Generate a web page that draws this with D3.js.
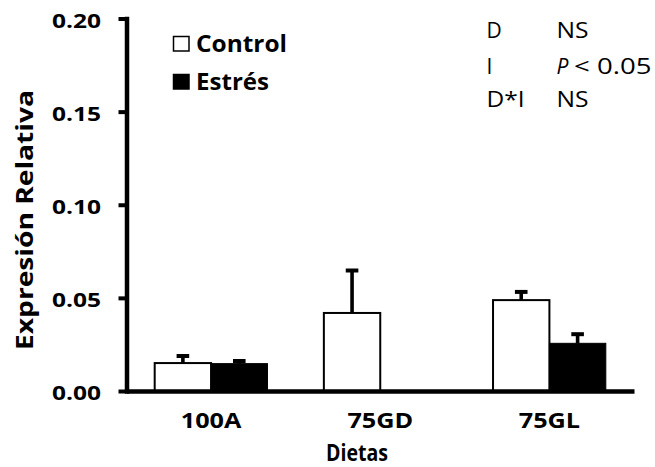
<!DOCTYPE html>
<html><head><meta charset="utf-8">
<script src="https://cdn.jsdelivr.net/npm/d3@7"></script>
<style>body{margin:0;background:#fff} svg text{font-family:"Open Sans",sans-serif;fill:#000}</style>
</head><body><svg id="c" width="655" height="467"></svg>
<script>
const categories = ["100A", "75GD", "75GL"];
const seriesNames = ["Control", "Estrés"];
const controlValues = [0.0150, 0.0419, 0.0488];
const controlErrors = [0.0038, 0.0228, 0.0044];
const stressValues = [0.0147, 0, 0.0256];
const stressErrors = [0.0014, 0, 0.0049];
const yTicks = [0, 0.05, 0.10, 0.15, 0.20];
const statTerms = ["D", "I", "D*I"];
const statResults = ["NS", "P < 0.05", "NS"];

const svg = d3.select("#c");
const W = 655, H = 467;
svg.append("rect").attr("width", W).attr("height", H).attr("fill", "#fff");

function fit(sel, len) {
  sel.attr("textLength", len).attr("lengthAdjust", "spacingAndGlyphs");
}
function stretch(sel, f) {
  sel.each(function () {
    const L = this.getComputedTextLength();
    this.setAttribute("textLength", L * f);
    this.setAttribute("lengthAdjust", "spacingAndGlyphs");
  });
}

const x = d3.scaleBand().domain(categories).range([126.5, 634]).paddingInner(1 / 3).paddingOuter(1 / 6);
const xs = d3.scaleBand().domain(seriesNames).range([0, x.bandwidth()]);
const y = d3.scaleLinear().domain([0, 0.2]).range([391, 18.5]);

const rows = [];
categories.forEach((c, i) => {
  rows.push({ cat: c, s: "Control", v: controlValues[i], e: controlErrors[i] });
  rows.push({ cat: c, s: "Estrés", v: stressValues[i], e: stressErrors[i] });
});

// bars
svg.append("g").selectAll("rect").data(rows.filter(d => d.v > 0)).join("rect")
  .attr("x", d => x(d.cat) + xs(d.s))
  .attr("y", d => y(d.v))
  .attr("width", xs.bandwidth())
  .attr("height", d => y(0) - y(d.v))
  .attr("fill", d => d.s === "Control" ? "#fff" : "#000")
  .attr("stroke", "#000")
  .attr("stroke-width", d => d.s === "Control" ? 2 : 1);

// error bars
const eb = svg.append("g").selectAll("g").data(rows.filter(d => d.e > 0)).join("g")
  .attr("transform", d => `translate(${x(d.cat) + xs(d.s) + xs.bandwidth() / 2},0)`);
eb.append("line").attr("x1", 0).attr("x2", 0)
  .attr("y1", d => y(d.v)).attr("y2", d => y(d.v + d.e))
  .attr("stroke", "#000").attr("stroke-width", 3.6);
eb.append("line").attr("x1", -6.3).attr("x2", 6.3)
  .attr("y1", d => y(d.v + d.e)).attr("y2", d => y(d.v + d.e))
  .attr("stroke", "#000").attr("stroke-width", 4);

// y axis
const gy = svg.append("g").attr("transform", "translate(126.5,0)")
  .call(d3.axisLeft(y).tickValues(yTicks).tickFormat(d3.format(".2f")).tickSize(8).tickSizeOuter(0));
gy.select(".domain").attr("stroke-width", 4.5).attr("stroke-linecap", "square");
gy.selectAll(".tick line").attr("stroke-width", 4);
gy.selectAll(".tick text").attr("x", -25.5).attr("dy", null).attr("y", 8.8)
  .attr("font-size", 20).attr("font-weight", 700).attr("font-family", '"Open Sans",sans-serif');
fit(gy.selectAll(".tick text"), 49);

// x axis
const gx = svg.append("g").attr("transform", "translate(0,391)")
  .call(d3.axisBottom(x).tickSize(0).tickSizeOuter(0));
gx.select(".domain").attr("stroke-width", 4.5);
gx.selectAll(".tick text").attr("dy", null).attr("y", 37.3)
  .attr("font-size", 21).attr("font-weight", 700).attr("font-family", '"Open Sans",sans-serif');
stretch(gx.selectAll(".tick text"), 1.2);

// axis titles
svg.append("text").attr("x", 357).attr("y", 460.5).attr("text-anchor", "middle")
  .attr("font-size", 23).attr("font-weight", 700)
  .call(fit, 62).text("Dietas");
svg.append("text").attr("transform", "translate(32.7,220) rotate(-90)").attr("text-anchor", "middle")
  .attr("font-size", 22.4).attr("font-weight", 700)
  .call(fit, 260).text("Expresión Relativa");

// legend
const lg = svg.append("g");
seriesNames.forEach((s, i) => {
  const yy = 36.5 + i * 38;
  lg.append("rect").attr("x", 173.5).attr("y", yy).attr("width", 15.5).attr("height", 14.5)
    .attr("fill", i === 0 ? "#fff" : "#000").attr("stroke", "#000").attr("stroke-width", 1.5);
  lg.append("text").attr("x", 196).attr("y", yy + 15).attr("font-size", 23.5).attr("font-weight", 700)
    .call(fit, i === 0 ? 91 : 73).text(s);
});

// statistics table
const st = svg.append("g");
const baselines = [37.7, 73.8, 106.7];
const termLens = [16, 5, 38];
statTerms.forEach((t, i) => {
  const tt = st.append("text").attr("x", 486.5).attr("y", baselines[i]).attr("font-size", 21).text(t);
  if (t.length > 1) fit(tt, termLens[i]);
  const r = statResults[i];
  if (r.startsWith("P")) {
    st.append("text").attr("x", 556.5).attr("y", baselines[i]).attr("font-size", 21)
      .attr("font-style", "italic").text("P");
    st.append("text").attr("x", 574).attr("y", baselines[i]).attr("font-size", 21)
      .call(fit, 77.5).text(r.slice(1).trim());
  } else {
    st.append("text").attr("x", 556.5).attr("y", baselines[i]).attr("font-size", 21)
      .call(fit, 32).text(r);
  }
});
</script></body></html>
